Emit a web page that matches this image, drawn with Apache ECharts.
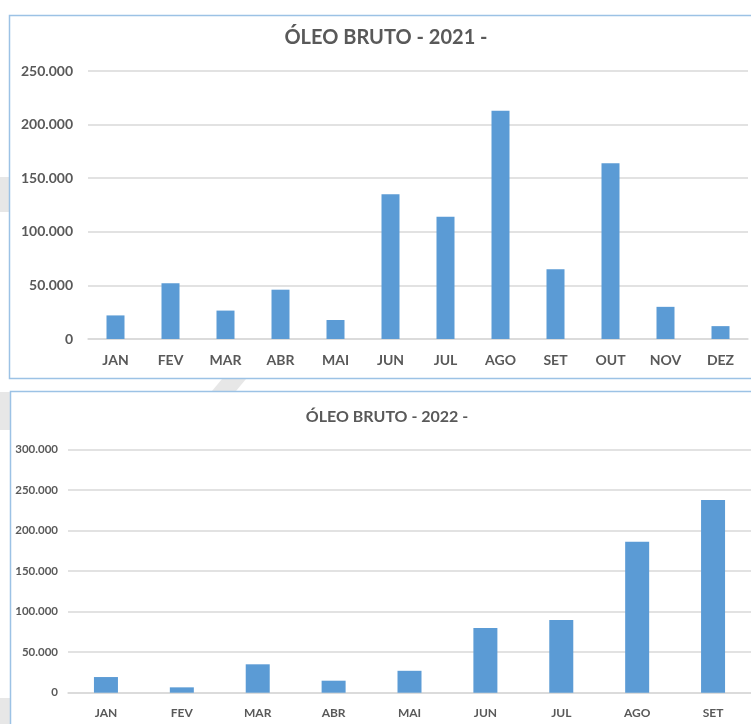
<!DOCTYPE html>
<html>
<head>
<meta charset="utf-8">
<script src="https://cdn.jsdelivr.net/npm/echarts@6/dist/echarts.min.js"></script>
<style>
html,body{margin:0;padding:0;background:#fff;}
#c{width:751px;height:724px;}
</style>
</head>
<body>
<div id="c"></div>
<script>
// ---- data ----
var title2021 = 'ÓLEO BRUTO - 2021 -';
var title2022 = 'ÓLEO BRUTO - 2022 -';
var months2021 = ['JAN','FEV','MAR','ABR','MAI','JUN','JUL','AGO','SET','OUT','NOV','DEZ'];
var values2021 = [22000, 52000, 26500, 46000, 17700, 135000, 114000, 213000, 65000, 164000, 30000, 12000];
var months2022 = ['JAN','FEV','MAR','ABR','MAI','JUN','JUL','AGO','SET'];
var values2022 = [19300, 6600, 35000, 14800, 27000, 79600, 89500, 186000, 237500];

function fmt(v){ return String(v).replace(/\B(?=(\d{3})+(?!\d))/g, '.'); }

var wideFont = "Lato, 'Open Sans', sans-serif";
var txt = '#595959';
var gridCol = '#d9d9d9';
var barCol = '#5b9bd5';
var borderCol = '#9cc2e5';
var bgGray = '#e7e7e7';

var chart = echarts.init(document.getElementById('c'), null, {renderer:'canvas'});
chart.setOption({
  backgroundColor: '#ffffff',
  animation: false,
  title: [
    {text: title2021, left: 386, top: 28, textAlign: 'center', padding: 0,
     textStyle: {fontFamily: wideFont, fontWeight: 'bold', fontSize: 20, color: txt}},
    {text: title2022, left: 387, top: 409, textAlign: 'center', padding: 0,
     textStyle: {fontFamily: wideFont, fontWeight: 'bold', fontSize: 16, color: txt}}
  ],
  graphic: [
    // background decorative shapes
    {type:'rect', z:-10, shape:{x:0, y:177, width:9, height:35}, style:{fill:bgGray}},
    {type:'rect', z:-10, shape:{x:0, y:392, width:10, height:38}, style:{fill:bgGray}},
    {type:'rect', z:-10, shape:{x:0, y:698, width:10, height:26}, style:{fill:bgGray}},
    {type:'polygon', z:-10, shape:{points:[[222,379],[246,379],[236,391],[212,391]]}, style:{fill:bgGray}},
    // chart borders
    {type:'rect', z:-5, shape:{x:9.5, y:15.5, width:760, height:363}, style:{fill:null, stroke:borderCol, lineWidth:1.5}},
    {type:'rect', z:-5, shape:{x:10.5, y:391.5, width:760, height:360}, style:{fill:null, stroke:borderCol, lineWidth:1.5}}
  ],
  grid: [
    {left: 88, top: 71, width: 660, height: 268, containLabel: false},
    {left: 68, top: 449.3, width: 683, height: 243.4, containLabel: false}
  ],
  xAxis: [
    {type:'category', gridIndex:0, data: months2021,
     axisTick:{show:false}, axisLine:{lineStyle:{color:gridCol, width:1.5}},
     axisLabel:{color:txt, fontFamily:wideFont, fontWeight:'bold', fontSize:14, margin:14}},
    {type:'category', gridIndex:1, data: months2022,
     axisTick:{show:false}, axisLine:{lineStyle:{color:gridCol, width:1.5}},
     axisLabel:{color:txt, fontFamily:wideFont, fontWeight:'bold', fontSize:12, margin:14}}
  ],
  yAxis: [
    {type:'value', gridIndex:0, min:0, max:250000, interval:50000,
     axisLine:{show:false}, axisTick:{show:false},
     splitLine:{lineStyle:{color:gridCol, width:1.5}},
     axisLabel:{color:txt, fontFamily:wideFont, fontWeight:'bold', fontSize:14, margin:15, formatter: fmt}},
    {type:'value', gridIndex:1, min:0, max:300000, interval:50000,
     axisLine:{show:false}, axisTick:{show:false},
     splitLine:{lineStyle:{color:gridCol, width:1.5}},
     axisLabel:{color:txt, fontFamily:wideFont, fontWeight:'bold', fontSize:11.5, margin:10, formatter: fmt}}
  ],
  series: [
    {type:'bar', xAxisIndex:0, yAxisIndex:0, data: values2021, barWidth:18,
     itemStyle:{color:barCol}},
    {type:'bar', xAxisIndex:1, yAxisIndex:1, data: values2022, barWidth:24,
     itemStyle:{color:barCol}}
  ]
});
</script>
</body>
</html>
